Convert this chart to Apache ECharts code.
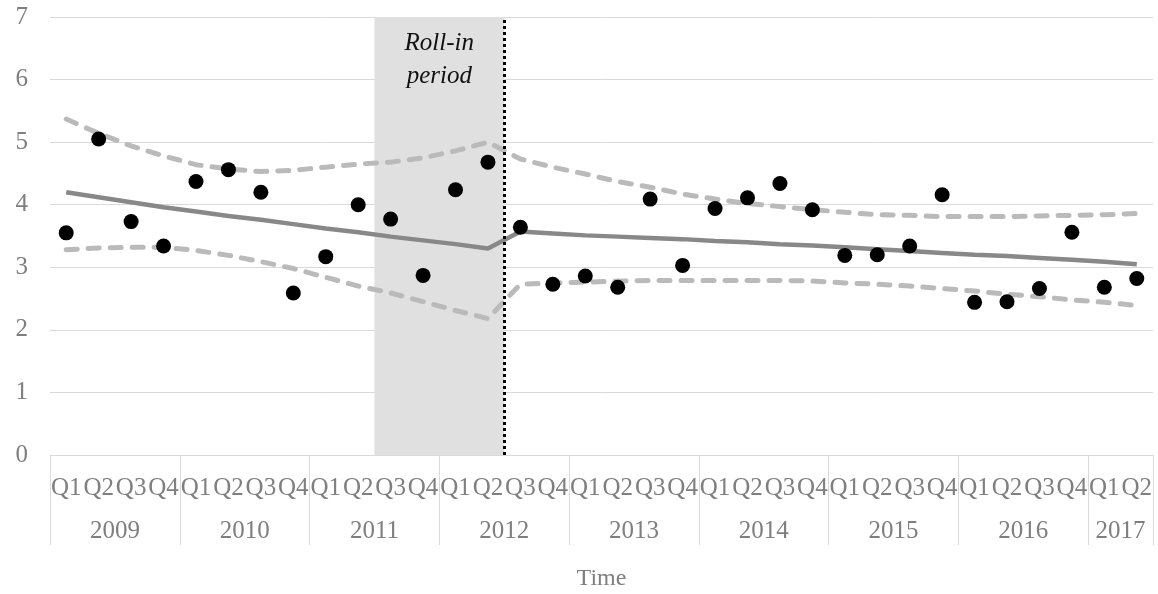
<!DOCTYPE html>
<html>
<head>
<meta charset="utf-8">
<script src="https://cdn.jsdelivr.net/npm/echarts@6/dist/echarts.min.js"></script>
<style>
  html, body { margin: 0; padding: 0; background: #fff; }
  #chart { width: 1158px; height: 594px; }
</style>
</head>
<body>
<div id="chart"></div>
<script>
// 年份和每年的季度数
const years = ['2009', '2010', '2011', '2012', '2013', '2014', '2015', '2016', '2017']
const quartersPerYear = [4, 4, 4, 4, 4, 4, 4, 4, 2]
const quarterNames = ['Q1', 'Q2', 'Q3', 'Q4']
const rollIn = ['2011 Q3', '2012 Q2']

// 观测值 (散点)
const observed = [3.55, 5.05, 3.73, 3.34, 4.37, 4.56, 4.20, 2.59, 3.17, 4.00, 3.77, 2.87, 4.24, 4.68,
  3.64, 2.73, 2.86, 2.68, 4.09, 3.03, 3.94, 4.11, 4.34, 3.92, 3.19, 3.20, 3.34, 4.16, 2.44, 2.45,
  2.66, 3.56, 2.68, 2.82]
// 趋势线
const trend = [4.20, 4.12, 4.04, 3.96, 3.89, 3.82, 3.76, 3.69, 3.62, 3.56, 3.49, 3.43, 3.37, 3.30,
  3.57, 3.54, 3.51, 3.49, 3.47, 3.45, 3.42, 3.40, 3.37, 3.35, 3.32, 3.29, 3.26, 3.23, 3.20, 3.18,
  3.15, 3.12, 3.09, 3.05]
// 置信区间上下界
const upper = [5.37, 5.14, 4.94, 4.78, 4.64, 4.57, 4.53, 4.55, 4.60, 4.65, 4.68, 4.75, 4.86, 5.00,
  4.73, 4.60, 4.49, 4.37, 4.28, 4.17, 4.09, 4.02, 3.97, 3.92, 3.88, 3.84, 3.83, 3.81, 3.81, 3.81,
  3.82, 3.83, 3.84, 3.86]
const lower = [3.28, 3.31, 3.32, 3.32, 3.27, 3.19, 3.09, 2.98, 2.84, 2.70, 2.59, 2.45, 2.31, 2.18,
  2.73, 2.75, 2.76, 2.78, 2.79, 2.79, 2.79, 2.79, 2.79, 2.78, 2.75, 2.73, 2.70, 2.66, 2.62, 2.57,
  2.53, 2.48, 2.44, 2.39]
const yTicks = [0, 1, 2, 3, 4, 5, 6, 7]

// 类目: '2009 Q1' ...
const categories = []
years.forEach((y, i) => {
  for (let q = 0; q < quartersPerYear[i]; q++) categories.push(y + ' ' + quarterNames[q])
})
// 年份分隔线和年份标签位置
const yearBounds = [0]
const yearCenters = []
quartersPerYear.forEach(n => {
  const start = yearBounds[yearBounds.length - 1]
  yearCenters.push(start + n / 2)
  yearBounds.push(start + n)
})
const rollStart = categories.indexOf(rollIn[0])
const rollEnd = categories.indexOf(rollIn[1]) + 1

const font = '"Liberation Serif", "Times New Roman", serif'
const gray = '#7f7f7f'
const lightGray = '#d9d9d9'
const fontSize = 25

const chart = echarts.init(document.getElementById('chart'))
const dashStyle = { color: '#bababa', width: 5, type: [11, 11], cap: 'round' }

chart.setOption({
  animation: false,
  grid: { left: 50, right: 5, top: 17, bottom: 139, outerBoundsMode: 'none', containLabel: false },
  xAxis: [{
    type: 'category',
    position: 'bottom',
    data: categories,
    axisLine: { lineStyle: { color: lightGray, width: 1 } },
    axisTick: { interval: 0, length: 45, lineStyle: { color: lightGray } },
    axisLabel: {
      interval: 0, margin: 21, color: gray, fontFamily: font, fontSize: fontSize,
      formatter: v => v.split(' ')[1]
    }
  }, {
    // 年份一行
    type: 'value',
    position: 'bottom',
    offset: 0,
    min: 0,
    max: categories.length,
    axisLine: { show: false },
    splitLine: { show: false },
    axisTick: { show: true, length: 90, customValues: yearBounds, lineStyle: { color: lightGray } },
    axisLabel: {
      margin: 64, color: gray, fontFamily: font, fontSize: fontSize,
      customValues: yearCenters,
      formatter: v => years[yearCenters.indexOf(v)] || ''
    },
    name: 'Time',
    nameLocation: 'middle',
    nameGap: 112,
    nameTextStyle: { color: gray, fontFamily: font, fontSize: 24 }
  }],
  yAxis: {
    type: 'value',
    min: yTicks[0],
    max: yTicks[yTicks.length - 1],
    interval: 1,
    axisLine: { show: false },
    axisTick: { show: false },
    splitLine: { lineStyle: { color: lightGray, width: 1 } },
    axisLabel: { margin: 22, color: gray, fontFamily: font, fontSize: fontSize }
  },
  series: [{
    // 过渡期阴影
    type: 'line',
    xAxisIndex: 1,
    data: [],
    z: 1,
    markArea: {
      silent: true,
      itemStyle: { color: '#e0e0e0' },
      label: {
        show: true,
        position: 'insideTop',
        distance: 10,
        formatter: 'Roll-in\nperiod',
        fontFamily: font,
        fontStyle: 'italic',
        fontSize: 25,
        lineHeight: 33,
        color: '#111'
      },
      data: [[{ xAxis: rollStart }, { xAxis: rollEnd }]]
    }
  }, {
    type: 'line',
    data: upper,
    symbol: 'none',
    z: 3,
    lineStyle: dashStyle
  }, {
    type: 'line',
    data: lower,
    symbol: 'none',
    z: 3,
    lineStyle: dashStyle
  }, {
    type: 'line',
    data: trend,
    symbol: 'none',
    z: 4,
    lineStyle: { color: '#888', width: 4.5 }
  }, {
    type: 'scatter',
    data: observed,
    symbolSize: 15,
    z: 5,
    itemStyle: { color: '#000', opacity: 1 }
  }, {
    // 虚线分隔
    type: 'line',
    xAxisIndex: 1,
    data: [],
    z: 6,
    markLine: {
      silent: true,
      symbol: 'none',
      label: { show: false },
      lineStyle: { color: '#000', width: 3, type: [3, 3] },
      data: [{ xAxis: rollEnd }]
    }
  }]
})
</script>
</body>
</html>
